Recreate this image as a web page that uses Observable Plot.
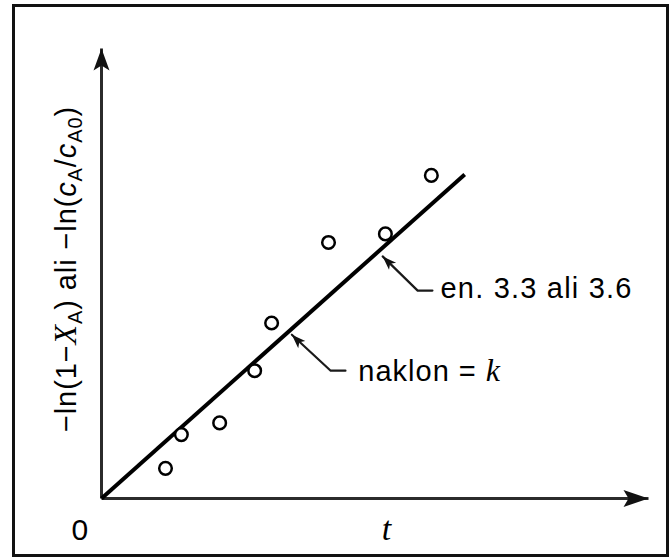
<!DOCTYPE html>
<html><head><meta charset="utf-8">
<script src="https://cdn.jsdelivr.net/npm/d3@7"></script>
<script src="https://cdn.jsdelivr.net/npm/@observablehq/plot@0.6"></script>
<style>
body{margin:0;background:#fff;}
#wrap{position:relative;width:672px;height:560px;overflow:hidden;background:#fff;}
#frame{position:absolute;left:12px;top:4px;width:651px;height:547px;border:3px solid #111;pointer-events:none;}
</style></head><body><div id="wrap"><div id="frame"></div></div>
<script>
// measured points: t (time) and -ln(1-XA)
const timeT = [1.17, 1.46, 2.16, 2.80, 3.11, 4.15, 5.19, 6.03];
const lnConv = [0.67, 1.42, 1.68, 2.84, 3.90, 5.69, 5.88, 7.18];
// fitted straight line through origin
const fitT = [0, 6.64];
const fitY = [0, 7.20];
// axis extents (arrow tips)
const axisMax = 10;
// annotation leaders (end -> bend -> tip), per leader
const leaderId = ["eq", "eq", "eq", "sl", "sl", "sl"];
const leaderX = [6.05, 5.78, 5.14, 4.46, 4.19, 3.48];
const leaderY = [4.62, 4.62, 5.38, 2.84, 2.84, 3.64];
const leaderTipX = [5.14, 3.48];
const leaderTipY = [5.38, 3.64];
// annotation texts
const annoText = ["en. 3.3 ali 3.6", "naklon = k"];
const annoX = [6.197, 4.695];
const annoY = [4.651, 2.807];
// rich-text parts: [string, style]
const yLabelParts = [["−ln(1−","sans"],["X","serifItalic"],["A","sub"],[") ali −ln(","sans"],["c","sansItalic"],["A","sub"],["/","sans"],["c","sansItalic"],["A0","sub"],[")","sans"]];
const slopeParts = [["naklon = ","sans"],["k","serifItalic"]];
const yLabelText = yLabelParts.map(d => d[0]).join("");
const yLabelPos = [-0.63, 5.1];
const zeroPos = [-0.397, -0.704];
const tPos = [5.21, -0.689];

const SANS = "'Liberation Sans', Arial, Helvetica, sans-serif";
const SERIF = "'Liberation Serif', 'Times New Roman', serif";

const points = timeT.map((t, i) => ({t, y: lnConv[i]}));
const fit = fitT.map((t, i) => ({t, y: fitY[i]}));
const leaders = leaderX.map((x, i) => ({x, y: leaderY[i], id: leaderId[i]}));
const tips = leaderTipX.map((x, i) => ({x, y: leaderTipY[i]}));
const axes = [{x1: 0, y1: 0, x2: axisMax, y2: 0}, {x1: 0, y1: 0, x2: 0, y2: axisMax}];
const annos = annoText.map((s, i) => ({s, x: annoX[i], y: annoY[i]}));

function head(angleDeg, len, half, notch) {
  const a = angleDeg * Math.PI / 180, c = Math.cos(a), s = Math.sin(a);
  const pts = [[0,0],[half,len],[0,len-notch],[-half,len]].map(([x,y]) => [x*c - y*s, x*s + y*c]);
  return {draw(ctx) { ctx.moveTo(...pts[0]); for (let i = 1; i < pts.length; i++) ctx.lineTo(...pts[i]); ctx.closePath(); }};
}

const plot = Plot.plot({
  width: 672, height: 560,
  marginLeft: 101, marginRight: 24, marginTop: 48, marginBottom: 62,
  x: {domain: [0, axisMax], axis: null},
  y: {domain: [0, axisMax], axis: null},
  style: {background: "transparent", overflow: "visible", fontFamily: SANS},
  marks: [
    Plot.link(axes, {x1: "x1", y1: "y1", x2: "x2", y2: "y2", stroke: "#2b2b2b", strokeWidth: 3}),
    Plot.dot([{x: 0, y: axisMax}], {x: "x", y: "y", symbol: head(0, 22, 8, 5), fill: "#111", stroke: "none"}),
    Plot.dot([{x: axisMax, y: 0}], {x: "x", y: "y", symbol: head(90, 25, 8.5, 5), fill: "#111", stroke: "none"}),
    Plot.line(fit, {x: "t", y: "y", stroke: "#000", strokeWidth: 4, strokeLinecap: "butt"}),
    Plot.line(leaders, {x: "x", y: "y", z: "id", stroke: "#1a1a1a", strokeWidth: 2.2}),
    Plot.dot(tips, {x: "x", y: "y", symbol: head(-45, 14, 5, 3.5), fill: "#111", stroke: "none"}),
    Plot.dot(points, {x: "t", y: "y", r: 6.3, stroke: "#000", strokeWidth: 2.5, fill: "white"}),
    Plot.text(annos, {x: "x", y: "y", text: "s", textAnchor: "start", lineAnchor: "middle", fontSize: 29, fill: "#000", fontFamily: SANS}),
    Plot.text([yLabelText], {x: () => yLabelPos[0], y: () => yLabelPos[1], text: d => d, rotate: -90, textAnchor: "middle", lineAnchor: "middle", fontSize: 29, fill: "#000", fontFamily: SANS}),
    Plot.text(["0"], {x: () => zeroPos[0], y: () => zeroPos[1], text: d => d, textAnchor: "middle", lineAnchor: "middle", fontSize: 30, fill: "#000", fontFamily: SANS}),
    Plot.text(["t"], {x: () => tPos[0], y: () => tPos[1], text: d => d, textAnchor: "middle", lineAnchor: "middle", fontSize: 34, fontStyle: "italic", fill: "#000", fontFamily: SERIF})
  ]
});
document.getElementById("wrap").prepend(plot);

// rich text: italics and subscripts
const NS = "http://www.w3.org/2000/svg";
function rich(el, parts, size) {
  el.textContent = "";
  let shift = 0;
  const subShift = Math.round(size * 0.22), subSize = Math.round(size * 0.7);
  for (const [s, style] of parts) {
    const ts = document.createElementNS(NS, "tspan");
    ts.textContent = s;
    if (style === "serifItalic") { ts.setAttribute("font-family", SERIF); ts.setAttribute("font-style", "italic"); ts.setAttribute("font-size", size + 3); }
    if (style === "sansItalic") ts.setAttribute("font-style", "italic");
    const target = style === "sub" ? subShift : 0;
    if (target !== shift) { ts.setAttribute("dy", target - shift); shift = target; }
    if (style === "sub") ts.setAttribute("font-size", subSize);
    el.appendChild(ts);
  }
}
for (const el of plot.querySelectorAll("text")) {
  const s = el.textContent;
  if (s === yLabelText) { rich(el, yLabelParts, 29); el.style.letterSpacing = "0.9px"; }
  else if (s === "naklon = k") { rich(el, slopeParts, 29); el.style.letterSpacing = "1px"; }
  else if (s === "en. 3.3 ali 3.6") { el.style.letterSpacing = "1.2px"; }
}
</script></body></html>
